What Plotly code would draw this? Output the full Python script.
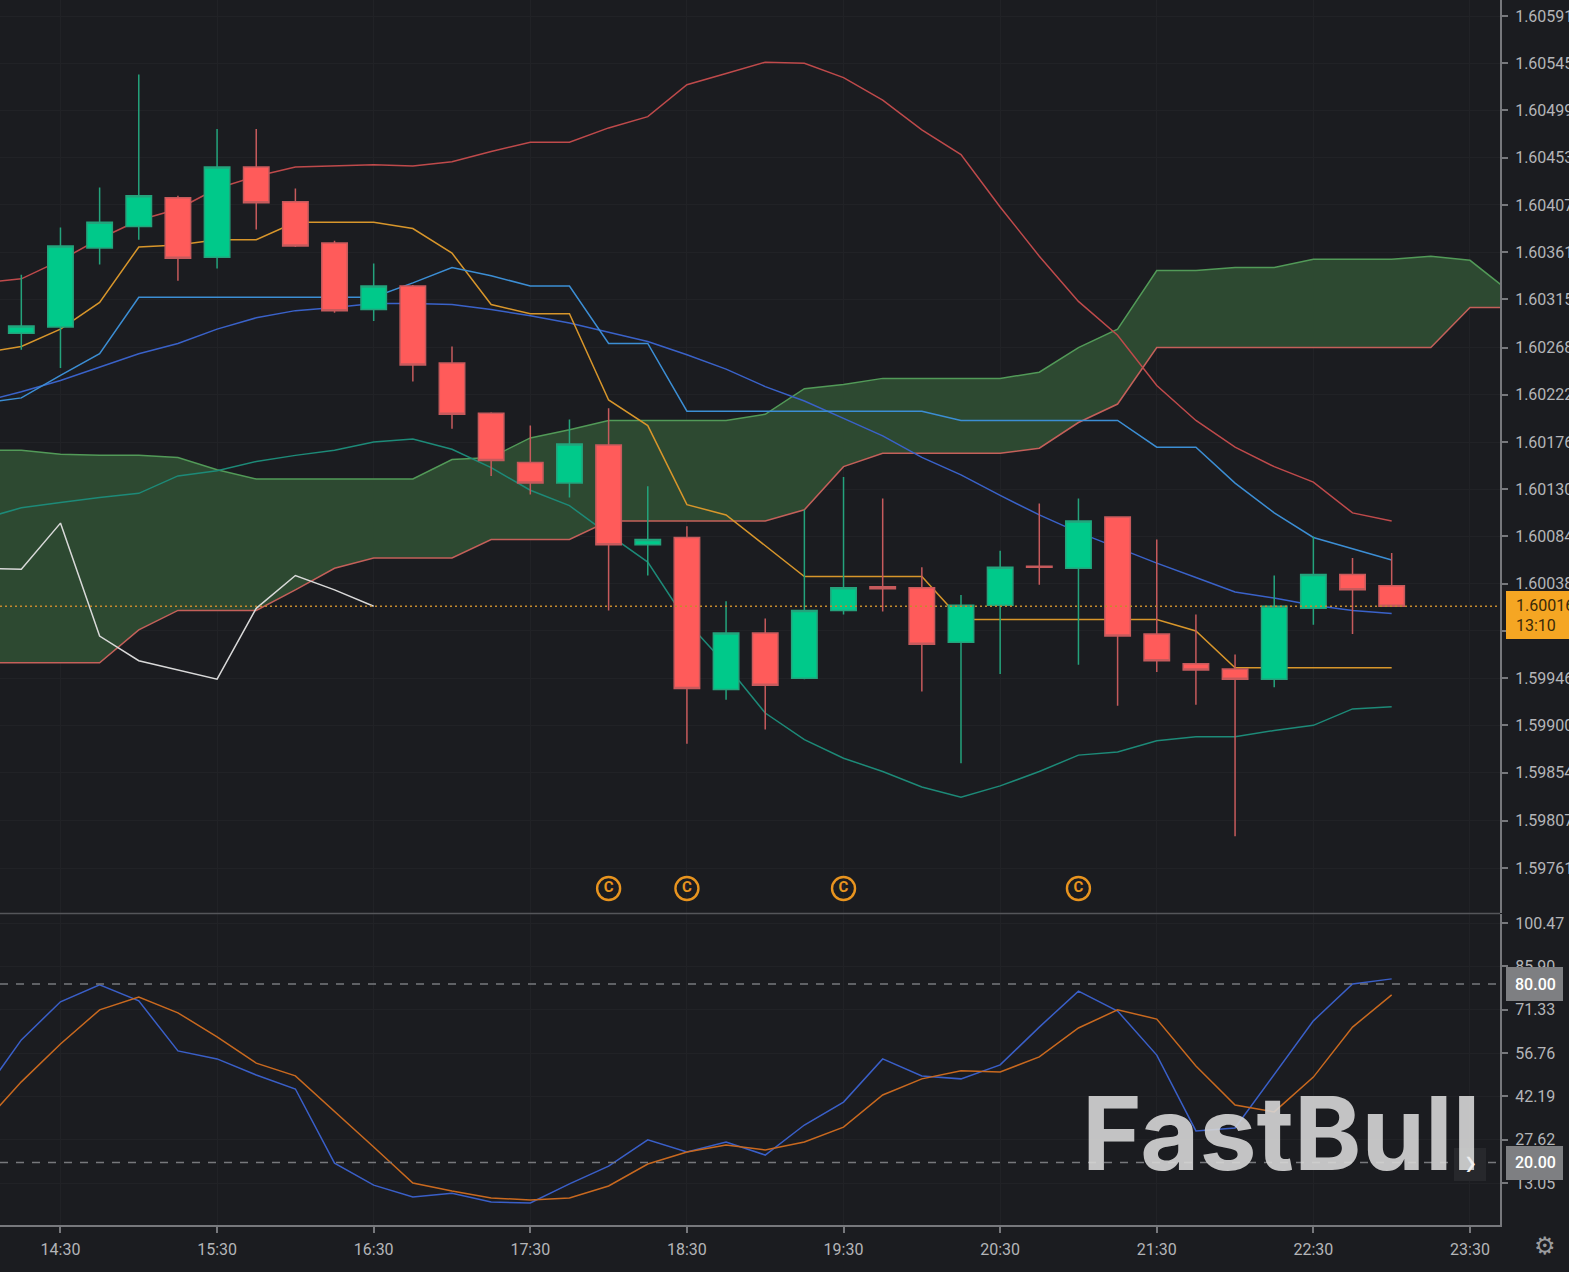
import pandas as pd
import plotly.graph_objects as go

W, H = 1569, 1272
BG = "#1b1c20"
GRID = "#212226"
AXIS = "#77787c"
TEXT = "#b4b5b8"

# 15 minute bars, the cloud runs on past the last candle
times = pd.date_range("2024-01-01 14:00", periods=40, freq="15min")
candle_times = times[1:37]

opens = [1.60282, 1.60288, 1.60365, 1.60386, 1.60414, 1.60356, 1.60444, 1.60410, 1.60370, 1.60305, 1.60328, 1.60253,
         1.60204, 1.60156, 1.60136, 1.60173, 1.60076, 1.60083, 1.59935, 1.59990, 1.59946, 1.60012, 1.60035, 1.60034,
         1.59981, 1.60017, 1.60055, 1.60053, 1.60103, 1.59989, 1.59960, 1.59955, 1.59945, 1.60014, 1.60047, 1.60036]
highs = [1.60339, 1.60385, 1.60424, 1.60534, 1.60416, 1.60481, 1.60481, 1.60423, 1.60372, 1.60350, 1.60329, 1.60269,
         1.60205, 1.60192, 1.60198, 1.60209, 1.60133, 1.60094, 1.60021, 1.60004, 1.60110, 1.60142, 1.60121, 1.60054,
         1.60027, 1.60070, 1.60116, 1.60121, 1.60103, 1.60081, 1.60008, 1.59969, 1.60046, 1.60084, 1.60063, 1.60068]
lows = [1.60266, 1.60248, 1.60349, 1.60373, 1.60333, 1.60345, 1.60383, 1.60366, 1.60302, 1.60294, 1.60235, 1.60189,
        1.60143, 1.60125, 1.60122, 1.60012, 1.60046, 1.59882, 1.59925, 1.59896, 1.59945, 1.60008, 1.60011, 1.59933,
        1.59863, 1.59950, 1.60037, 1.59959, 1.59919, 1.59952, 1.59920, 1.59792, 1.59937, 1.59998, 1.59989, 1.60016]
closes = [1.60289, 1.60367, 1.60390, 1.60416, 1.60355, 1.60444, 1.60409, 1.60367, 1.60304, 1.60328, 1.60251, 1.60203,
          1.60158, 1.60136, 1.60174, 1.60076, 1.60081, 1.59936, 1.59990, 1.59939, 1.60012, 1.60034, 1.60033, 1.59979,
          1.60017, 1.60054, 1.60054, 1.60099, 1.59987, 1.59963, 1.59954, 1.59945, 1.60016, 1.60047, 1.60032, 1.60016]

# Bollinger bands
bb_upper = [1.60331, 1.60335, 1.60353, 1.60374, 1.60392, 1.60403, 1.60423, 1.60435, 1.60444, 1.60445, 1.60446, 1.60445,
            1.60449, 1.60459, 1.60468, 1.60468, 1.60482, 1.60493, 1.60524, 1.60535, 1.60546, 1.60545, 1.60531, 1.60509,
            1.60480, 1.60456, 1.60405, 1.60357, 1.60313, 1.60280, 1.60231, 1.60197, 1.60171, 1.60152, 1.60137, 1.60107,
            1.60099]
bb_mid = [1.60215, 1.60225, 1.60236, 1.60249, 1.60262, 1.60272, 1.60286, 1.60297, 1.60304, 1.60307, 1.60311, 1.60311,
          1.60310, 1.60305, 1.60299, 1.60292, 1.60283, 1.60274, 1.60261, 1.60247, 1.60230, 1.60216, 1.60199, 1.60182,
          1.60161, 1.60144, 1.60124, 1.60105, 1.60088, 1.60073, 1.60058, 1.60044, 1.60030, 1.60024, 1.60017, 1.60012,
          1.60009]
bb_lower = [1.60101, 1.60112, 1.60117, 1.60122, 1.60126, 1.60143, 1.60148, 1.60157, 1.60163, 1.60168, 1.60176, 1.60179,
            1.60169, 1.60151, 1.60129, 1.60114, 1.60086, 1.60059, 1.60001, 1.59959, 1.59912, 1.59886, 1.59868, 1.59855,
            1.59840, 1.59830, 1.59841, 1.59855, 1.59871, 1.59874, 1.59885, 1.59889, 1.59889, 1.59895, 1.59900, 1.59916,
            1.59918]

# Ichimoku
tenkan = [1.60263, 1.60269, 1.60286, 1.60312, 1.60366, 1.60368, 1.60373, 1.60373, 1.60390, 1.60390, 1.60390, 1.60384,
          1.60360, 1.60310, 1.60301, 1.60301, 1.60217, 1.60192, 1.60115, 1.60105, 1.60075, 1.60045, 1.60045, 1.60045,
          1.60045, 1.60003, 1.60003, 1.60003, 1.60003, 1.60003, 1.60003, 1.59992, 1.59956, 1.59956, 1.59956, 1.59956,
          1.59956]
kijun = [1.60214, 1.60219, 1.60241, 1.60262, 1.60317, 1.60317, 1.60317, 1.60317, 1.60317, 1.60317, 1.60317, 1.60331,
         1.60346, 1.60338, 1.60328, 1.60328, 1.60272, 1.60272, 1.60206, 1.60206, 1.60206, 1.60206, 1.60206, 1.60206,
         1.60206, 1.60197, 1.60197, 1.60197, 1.60197, 1.60197, 1.60171, 1.60171, 1.60136, 1.60107, 1.60083, 1.60072,
         1.60061]
chikou = [1.60053, 1.60052, 1.60097, 1.59987, 1.59963, 1.59954, 1.59945, 1.60014, 1.60046, 1.60032, 1.60016]
senkou_a = [1.60168, 1.60168, 1.60164, 1.60163, 1.60163, 1.60161, 1.60149, 1.60140, 1.60140, 1.60140, 1.60140, 1.60140,
            1.60159, 1.60161, 1.60180, 1.60188, 1.60197, 1.60197, 1.60197, 1.60197, 1.60203, 1.60228, 1.60232, 1.60238,
            1.60238, 1.60238, 1.60238, 1.60244, 1.60268, 1.60286, 1.60343, 1.60343, 1.60346, 1.60346, 1.60354, 1.60354,
            1.60354, 1.60357, 1.60353, 1.60323]
senkou_b = [1.59961, 1.59961, 1.59961, 1.59961, 1.59993, 1.60012, 1.60012, 1.60012, 1.60032, 1.60053, 1.60063, 1.60063,
            1.60063, 1.60081, 1.60081, 1.60081, 1.60099, 1.60099, 1.60099, 1.60099, 1.60099, 1.60110, 1.60152, 1.60165,
            1.60165, 1.60165, 1.60165, 1.60170, 1.60195, 1.60213, 1.60268, 1.60268, 1.60268, 1.60268, 1.60268, 1.60268,
            1.60268, 1.60268, 1.60307, 1.60307]

# Stochastic
stoch_k = [42.7, 61.2, 74.0, 79.7, 74.3, 57.5, 54.8, 49.4, 44.7, 19.8, 12.4, 8.4, 9.7, 6.7, 6.4, 12.8, 18.8, 27.6, 23.5,
           26.9, 22.5, 32.6, 40.3, 54.8, 49.1, 48.1, 52.8, 65.5, 77.6, 70.9, 56.1, 30.6, 31.6, 49.4, 67.6, 80.0, 81.7]
stoch_d = [32.6, 47.1, 59.8, 71.3, 75.6, 70.3, 62.2, 53.4, 49.1, 37.3, 25.2, 13.1, 10.4, 8.1, 7.4, 8.1, 12.1, 19.5, 23.5,
           25.9, 24.2, 26.9, 31.9, 42.7, 48.1, 50.8, 50.4, 55.5, 65.2, 71.3, 68.2, 52.4, 39.3, 37.0, 48.7, 65.5, 76.3]

signal_times = ["2024-01-01 18:00", "2024-01-01 18:30", "2024-01-01 19:30", "2024-01-01 21:00"]
signal_prices = [1.59741, 1.59741, 1.59741, 1.59741]

last_price = 1.60016
stoch_levels = [80, 20]

price_ticks = [1.60591, 1.60545, 1.60499, 1.60453, 1.60407, 1.60361, 1.60315, 1.60268, 1.60222, 1.60176, 1.60130,
               1.60084, 1.60038, 1.59992, 1.59946, 1.59900, 1.59854, 1.59807, 1.59761]
# 1.59992 sits fully behind the last price badge, only its tick mark shows
# the nbsp pushes the labels a little away from the tick marks
price_labels = ["" if v == 1.59992 else f"\u00a0{v:.5f}" for v in price_ticks]
stoch_ticks = [100.47, 85.90, 71.33, 56.76, 42.19, 27.62, 13.05]
stoch_labels = [f"\u00a0{v:.2f}" for v in stoch_ticks]
time_ticks = ["14:30", "15:30", "16:30", "17:30", "18:30", "19:30", "20:30", "21:30", "22:30", "23:30"]
time_tick_vals = ["2024-01-01 " + t for t in time_ticks]


def px(x):
    return x / W


def py(y):
    return (1225 - y) / 1225


def line(x, y, color, yaxis="y", xaxis="x", width=1.5):
    return go.Scatter(x=x, y=y, mode="lines", xaxis=xaxis, yaxis=yaxis, hoverinfo="skip", showlegend=False,
                      line=dict(color=color, width=width))


fig = go.Figure()

# cloud
fig.add_trace(line(times, senkou_b, "#c4605a"))
fig.add_trace(go.Scatter(x=times, y=senkou_a, mode="lines", fill="tonexty", fillcolor="#2d4931", showlegend=False,
                         hoverinfo="skip", line=dict(color="#529a58", width=1.5)))

fig.add_trace(line(times[:37], bb_upper, "#bf4a4b"))
fig.add_trace(line(times[:37], bb_mid, "#3a62c9"))
fig.add_trace(line(times[:37], bb_lower, "#1d8a78"))
fig.add_trace(line(times[:37], tenkan, "#d8962b"))
fig.add_trace(line(times[:37], kijun, "#3c8ed4"))
fig.add_trace(line(times[:11], chikou, "#d9d9d9"))

# candles sit on an overlay axis so they cover the indicator lines
fig.add_trace(go.Candlestick(x=candle_times, open=opens, high=highs, low=lows, close=closes, yaxis="y3", xaxis="x",
                             showlegend=False, hoverinfo="skip", whiskerwidth=0,
                             increasing=dict(fillcolor="#00c98a", line=dict(color="#24a37c", width=1.5)),
                             decreasing=dict(fillcolor="#ff5b5a", line=dict(color="#c65a5c", width=1.5))))

fig.add_trace(go.Scatter(x=signal_times, y=signal_prices, mode="markers+text", text=["C"] * 4, yaxis="y3", xaxis="x",
                         textposition="middle center", showlegend=False, hoverinfo="skip",
                         textfont=dict(color="#e8941f", size=15, family="Roboto", weight=700),
                         marker=dict(symbol="circle-open", size=23, color="#e8941f", line=dict(width=2.4, color="#e8941f"))))

fig.add_trace(line(times[:37], stoch_k, "#3a5fc8", yaxis="y2", xaxis="x2"))
fig.add_trace(line(times[:37], stoch_d, "#c9691f", yaxis="y2", xaxis="x2"))

x_range = ["2024-01-01 14:06:50", "2024-01-01 23:41:30"]
tick_font = dict(family="Roboto", size=16, color=TEXT)

fig.update_layout(
    width=W, height=H, paper_bgcolor=BG, plot_bgcolor=BG,
    # the price labels run off the page on purpose, so no margin expansion
    margin=dict(l=0, r=0, t=0, b=47, pad=0, autoexpand=False),
    boxgap=0.35, boxgroupgap=0, showlegend=False,
    xaxis=dict(domain=[0, 1500 / W], range=x_range, type="date", anchor="y", tickvals=time_tick_vals,
               showticklabels=False, ticks="", showgrid=True, gridcolor=GRID, gridwidth=1, zeroline=False,
               showline=False, rangeslider=dict(visible=False)),
    xaxis2=dict(domain=[0, 1500 / W], range=x_range, type="date", anchor="y2", tickvals=time_tick_vals,
                ticktext=time_ticks, tickfont=tick_font, ticks="outside", ticklen=6, tickcolor=AXIS, tickwidth=1.5,
                ticklabelstandoff=3, showgrid=True, gridcolor=GRID, gridwidth=1, showline=True, linecolor=AXIS,
                linewidth=2, zeroline=False),
    yaxis=dict(domain=[312 / 1225, 1], range=[1.597172, 1.606066], anchor="x", side="right", tickvals=price_ticks,
               ticktext=price_labels, tickfont=tick_font, ticks="outside", ticklen=6,
               tickcolor=AXIS, tickwidth=1.5, showgrid=True, gridcolor=GRID, gridwidth=1,
               showline=True, linecolor=AXIS, linewidth=2, zeroline=False),
    yaxis3=dict(domain=[312 / 1225, 1], range=[1.597172, 1.606066], anchor="x", overlaying="y", side="right",
                visible=False),
    yaxis2=dict(domain=[0, 311 / 1225], range=[-1.0, 103.5], anchor="x2", side="right", tickvals=stoch_ticks,
                ticktext=stoch_labels, tickfont=tick_font, ticks="outside", ticklen=6,
                tickcolor=AXIS, tickwidth=1.5, showgrid=True, gridcolor=GRID, gridwidth=1,
                showline=True, linecolor=AXIS, linewidth=2, zeroline=False),
)

# pane separator
fig.add_shape(type="line", xref="paper", yref="paper", x0=0, x1=px(1500), y0=py(913.5), y1=py(913.5),
              line=dict(color="#55565a", width=1.5))
# last price line
fig.add_shape(type="line", xref="paper", yref="y", x0=0, x1=px(1500), y0=last_price, y1=last_price, layer="above",
              line=dict(color="#c68a2e", width=1.3, dash="2px,3px"))
for level in stoch_levels:
    fig.add_shape(type="line", xref="paper", yref="y2", x0=0, x1=px(1500), y0=level, y1=level,
                  line=dict(color="#77787c", width=1.5, dash="8px,8px"))

# axis badges
fig.add_shape(type="rect", xref="paper", yref="paper", x0=px(1506), x1=px(1575), y0=py(591), y1=py(639),
              fillcolor="#f5a623", line=dict(width=0), layer="above")
fig.add_shape(type="rect", xref="paper", yref="paper", x0=px(1506), x1=px(1563), y0=py(967), y1=py(1001),
              fillcolor="#7e7f82", line=dict(width=0), layer="above")
fig.add_shape(type="rect", xref="paper", yref="paper", x0=px(1506), x1=px(1563), y0=py(1146), y1=py(1180),
              fillcolor="#7e7f82", line=dict(width=0), layer="above")
# expand button behind the logo
fig.add_shape(type="rect", xref="paper", yref="paper", x0=px(1454), x1=px(1486), y0=py(1148), y1=py(1181),
              fillcolor="#27282c", line=dict(width=0), layer="above")


def label(x, y, text, size=16, color="#e6e6e6", family="Roboto", xanchor="left", weight=400):
    fig.add_annotation(xref="paper", yref="paper", x=px(x), y=py(y), text=text, showarrow=False, xanchor=xanchor,
                       yanchor="middle", borderpad=0, font=dict(family=family, size=size, color=color, weight=weight))


label(1515, 605, "1.60016", color="#3a2a08")
label(1515, 625, "13:10", color="#3a2a08")
label(1514, 984, "80.00", color="#ffffff", weight=500)
label(1514, 1162, "20.00", color="#ffffff", weight=500)
label(1281, 1133, "FastBull", size=102, color="rgba(214,214,214,0.9)", family="Inter", xanchor="center", weight=700)
label(1470, 1162, "›", size=38, color="#f0f0f0", xanchor="center")
label(1545, 1246, "⚙", size=24, color="#9a9b9e", family="DejaVu Sans", xanchor="center")

fig.write_html("out.html", config=dict(displayModeBar=False), post_script="document.body.style.margin='0';")
